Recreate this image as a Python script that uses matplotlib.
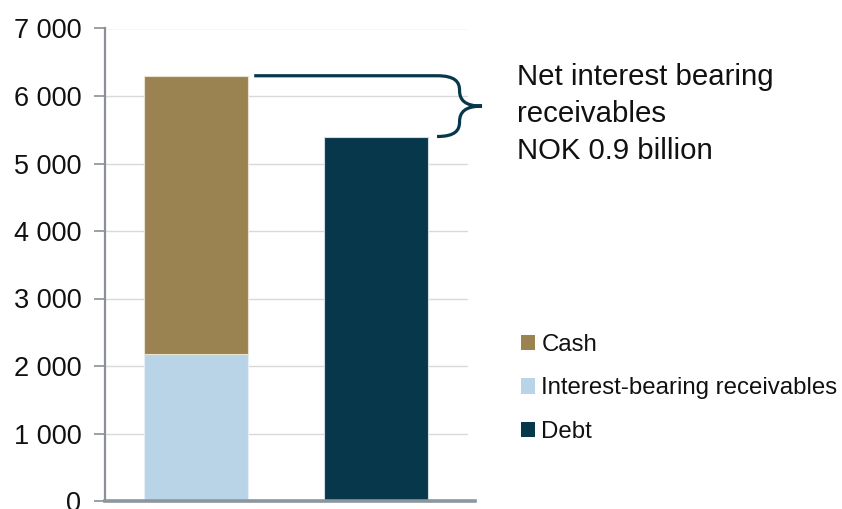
import matplotlib
matplotlib.use("Agg")
import matplotlib.pyplot as plt
from matplotlib.patches import Patch, PathPatch
from matplotlib.path import Path
from matplotlib.ticker import FuncFormatter

plt.rcParams['font.family'] = ['Liberation Sans', 'DejaVu Sans']

# ---- data ----
categories = ["Assets", "Debt"]
receivables = [2180, 0]
cash = [4120, 0]
debt = [0, 5400]
series_labels = ["Cash", "Interest-bearing receivables", "Debt"]
annotation = "Net interest bearing\nreceivables\nNOK 0.9 billion"
yticks = [0, 1000, 2000, 3000, 4000, 5000, 6000, 7000]

c_cash = "#9A8350"
c_rec = "#BAD4E7"
c_debt = "#07374B"

fig = plt.figure(figsize=(8.42, 5.09), dpi=100)
ax = fig.add_axes([105/842, 8/509, 363/842, 472.5/509])

x = [0, 1]
w = 0.58
ax.bar(x[0], receivables[0], width=w, color=c_rec, edgecolor="#E4EEF6", linewidth=0.8, zorder=3)
ax.bar(x[0], cash[0], bottom=receivables[0], width=w, color=c_cash, edgecolor="#E8E2D0", linewidth=0.8, zorder=3)
ax.bar(x[1], debt[1], width=w, color=c_debt, edgecolor="#D0DCE2", linewidth=0.8, zorder=3)

ax.set_xlim(-0.506, 1.511)
ax.set_ylim(0, 7000)
ax.set_yticks(yticks)
ax.yaxis.set_major_formatter(FuncFormatter(lambda v, p: f"{int(v):,}".replace(",", " ")))
ax.set_xticks([])
ax.tick_params(axis='y', direction='out', length=8, width=1.2, color="#8A9096",
               labelsize=19.5, pad=9, labelcolor="#111111")
ax.grid(axis='y', color="#D9D9D9", linewidth=1.0, zorder=0)
for s in ["top", "right"]:
    ax.spines[s].set_visible(False)
ax.spines["left"].set_color("#8A9096")
ax.spines["left"].set_linewidth(1.6)
ax.spines["bottom"].set_color("#8C969E")
ax.spines["bottom"].set_linewidth(2.6)
ax.spines["bottom"].set_zorder(4)
ax.spines["bottom"].set_bounds(-0.506, 1.55)

# ---- brace annotation ----
top_a = receivables[0] + cash[0]
top_b = debt[1]
mid = (top_a + top_b) / 2
dy = (top_a - top_b)
x0 = x[0] + w/2 + 0.033
xe = 1.339
xv = 1.464
xt = 1.589
verts = [
    (x0, top_a), (xe, top_a),
    (xe + 0.1, top_a), (xv, top_a - dy*0.1), (xv, top_a - dy*0.24),
    (xv, top_a - dy*0.4), (xv + 0.03, mid), (xt, mid),
    (xv + 0.03, mid), (xv, top_b + dy*0.4), (xv, top_b + dy*0.24),
    (xv, top_b + dy*0.1), (xe + 0.1, top_b), (xe, top_b),
]
codes = [Path.MOVETO, Path.LINETO,
         Path.CURVE4, Path.CURVE4, Path.CURVE4,
         Path.CURVE4, Path.CURVE4, Path.CURVE4,
         Path.CURVE4, Path.CURVE4, Path.CURVE4,
         Path.CURVE4, Path.CURVE4, Path.CURVE4]
ax.add_patch(PathPatch(Path(verts, codes), facecolor='none', edgecolor=c_debt,
                       linewidth=2.3, clip_on=False, zorder=5))

fig.text(517/842, 1 - 63/509, annotation, fontsize=21.2, va='top', ha='left',
         linespacing=1.40, color="#111111")

handles = [Patch(facecolor=c_cash, edgecolor='none'),
           Patch(facecolor=c_rec, edgecolor='none'),
           Patch(facecolor=c_debt, edgecolor='none')]
fig.legend(handles, series_labels, loc='upper left', bbox_to_anchor=(521/842, 1 - 334/509),
           frameon=False, fontsize=17.3, handlelength=0.6, handleheight=0.6,
           handletextpad=0.25, labelspacing=0.89, borderpad=0, borderaxespad=0,
           labelcolor="#111111")

fig.savefig("out.png", dpi=100)
